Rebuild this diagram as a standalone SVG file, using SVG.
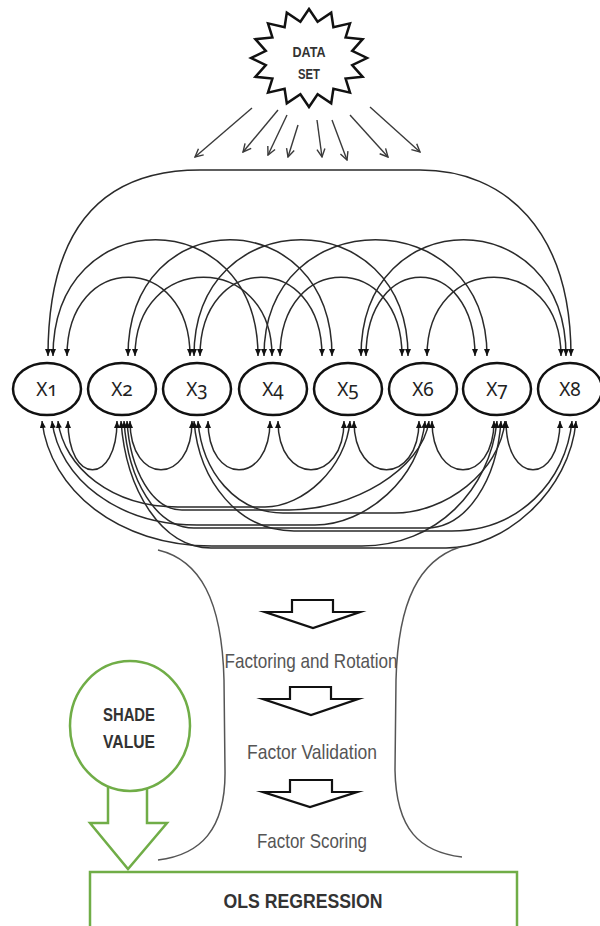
<svg xmlns="http://www.w3.org/2000/svg" width="600" height="926" viewBox="0 0 600 926">
  <style>
    .arc { fill: none; stroke: #2a2a2a; stroke-width: 1.5; marker-start: url(#tip); marker-end: url(#tip); }
    .ray { fill: none; stroke: #3a3a3a; stroke-width: 1.4; marker-end: url(#open); }
    .node { fill: #fff; stroke: #111; stroke-width: 2.5; }
    .lbl { font-family: "Noto Sans", "Liberation Sans", sans-serif; font-size: 19px; fill: #222; text-anchor: middle; font-variant-numeric: oldstyle-nums; font-feature-settings: "onum" 1; }
    .cap { font-family: "Liberation Sans", Arial, sans-serif; font-weight: bold; fill: #333; text-anchor: middle; }
    .step { font-family: "Liberation Sans", Arial, sans-serif; font-size: 21px; fill: #555; text-anchor: middle; }
    .vase { fill: none; stroke: #555; stroke-width: 1.5; }
    .block { fill: #fff; stroke: #111; stroke-width: 2.2; stroke-linejoin: miter; stroke-miterlimit: 12; }
    .green { fill: #fff; stroke: #70ad47; stroke-width: 2.5; }
  </style>
  <defs>
    <marker id="tip" viewBox="0 0 7 6" refX="7" refY="3" markerWidth="7" markerHeight="6" markerUnits="userSpaceOnUse" orient="auto-start-reverse">
      <path d="M0,0 L7,3 L0,6 z" fill="#111"/>
    </marker>
    <marker id="open" viewBox="0 0 10 10" refX="9" refY="5" markerWidth="10" markerHeight="10" markerUnits="userSpaceOnUse" orient="auto">
      <path d="M1,1 L9,5 L1,9" fill="none" stroke="#3a3a3a" stroke-width="1.4"/>
    </marker>
  </defs>

  <rect width="600" height="926" fill="#fff"/>

  <!-- source node -->
  <g id="data-set">
    <polygon fill="#fff" stroke="#111" stroke-width="2.5" stroke-linejoin="miter"
      points="309,9 317.6,21.7 331.2,12.7 333.4,27.2 350,23.4 345.6,37.4 362.6,39.2 352.2,50.8 367,58 352.2,65.2 362.6,76.8 345.6,78.6 350,92.6 333.4,88.8 331.2,103.3 317.6,94.3 309,107 300.4,94.3 286.8,103.3 284.6,88.8 268,92.6 272.4,78.6 255.4,76.8 265.8,65.2 251,58 265.8,50.8 255.4,39.2 272.4,37.4 268,23.4 284.6,27.2 286.8,12.7 300.4,21.7"/>
    <text class="cap" x="309" y="57" font-size="15" textLength="33" lengthAdjust="spacingAndGlyphs">DATA</text>
    <text class="cap" x="309" y="79" font-size="15" textLength="22" lengthAdjust="spacingAndGlyphs">SET</text>
  </g>

  <g id="connectors">
    <!-- rays from the data set -->
    <path class="ray" d="M252,108 L195,157"/>
    <path class="ray" d="M278,110 L243,152"/>
    <path class="ray" d="M287,115 L268,155"/>
    <path class="ray" d="M298,125 L288,157"/>
    <path class="ray" d="M317,120 L322,157"/>
    <path class="ray" d="M332,120 L347,160"/>
    <path class="ray" d="M350,115 L388,157"/>
    <path class="ray" d="M370,107 L420,152"/>

    <!-- upper correlations -->
    <path class="arc" d="M48,356 C48,230 100,170 200,170 L420,170 C505,170 571,230 571,356"/>
    <path class="arc" d="M53,356 C53,201 258,201 258,356"/>
    <path class="arc" d="M128,356 C128,201 332,201 332,356"/>
    <path class="arc" d="M194,356 C194,201 408,201 408,356"/>
    <path class="arc" d="M264,356 C264,201 487,201 487,356"/>
    <path class="arc" d="M361,356 C361,201 566,201 566,356"/>
    <path class="arc" d="M67,356 C67,251 190,251 190,356"/>
    <path class="arc" d="M135,356 C135,251 272,251 272,356"/>
    <path class="arc" d="M200,356 C200,251 322,251 322,356"/>
    <path class="arc" d="M280,356 C280,251 402,251 402,356"/>
    <path class="arc" d="M366,356 C366,251 475,251 475,356"/>
    <path class="arc" d="M427,356 C427,251 561,251 561,356"/>

    <!-- lower correlations: neighbours -->
    <path class="arc" d="M68,421 C68,486 117,486 117,421"/>
    <path class="arc" d="M130,421 C130,486 192,486 192,421"/>
    <path class="arc" d="M208,421 C208,486 270,486 270,421"/>
    <path class="arc" d="M278,421 C278,486 344,486 344,421"/>
    <path class="arc" d="M354,421 C354,486 419,486 419,421"/>
    <path class="arc" d="M432,421 C432,486 494,486 494,421"/>
    <path class="arc" d="M506,421 C506,486 560,486 560,421"/>

    <!-- lower correlations: long spans -->
    <path class="arc" d="M58,421 C64,468 112,507 178,507 L265,507 C303,507 346,468 350,421"/>
    <path class="arc" d="M127,421 C130,470 152,510 182,510 L289,510 C352,510 422,470 429,421"/>
    <path class="arc" d="M198,421 C202,472 236,513 283,513 L395,513 C445,513 500,472 505,421"/>
    <path class="arc" d="M52,421 C59,478 117,525 197,525 L315,525 C366,525 420,478 425,421"/>
    <path class="arc" d="M124,421 C128,480 156,528 194,528 L426,528 C467,528 497,480 501,421"/>
    <path class="arc" d="M194,421 C199,482 239,531 294,531 L452,531 C518,531 566,482 572,421"/>
    <path class="arc" d="M42,421 C50,490 118,546 212,546 L362,546 C436,546 490,490 497,421"/>
    <path class="arc" d="M121,421 C126,491 162,548 211,548 L446,548 C505,548 570,491 576,421"/>
  </g>

  <!-- variables -->
  <g id="x1"><ellipse class="node" cx="47" cy="389" rx="34" ry="26"/><text class="lbl" x="47" y="396">X1</text></g>
  <g id="x2"><ellipse class="node" cx="122" cy="389" rx="34" ry="26"/><text class="lbl" x="122" y="396">X2</text></g>
  <g id="x3"><ellipse class="node" cx="197" cy="389" rx="34" ry="26"/><text class="lbl" x="197" y="396">X3</text></g>
  <g id="x4"><ellipse class="node" cx="273" cy="389" rx="34" ry="26"/><text class="lbl" x="273" y="396">X4</text></g>
  <g id="x5"><ellipse class="node" cx="348" cy="389" rx="34" ry="26"/><text class="lbl" x="348" y="396">X5</text></g>
  <g id="x6"><ellipse class="node" cx="423" cy="389" rx="34" ry="26"/><text class="lbl" x="423" y="396">X6</text></g>
  <g id="x7"><ellipse class="node" cx="497" cy="389" rx="34" ry="26"/><text class="lbl" x="497" y="396">X7</text></g>
  <g id="x8"><ellipse class="node" cx="570" cy="389" rx="32" ry="26"/><text class="lbl" x="570" y="396">X8</text></g>

  <!-- funnel and processing steps -->
  <g id="funnel">
    <path class="vase" d="M158,550 C200,560 222,600 224,680 L225,770 C226,830 200,855 158,860"/>
    <path class="vase" d="M460,547 C420,560 398,600 396,680 L395,770 C396,830 420,852 462,857"/>
  </g>
  <g id="step-factoring">
    <polygon class="block" points="292,600 333,600 333,612 360,612 313,628 265,612 292,612"/>
    <text class="step" x="311" y="668" textLength="173" lengthAdjust="spacingAndGlyphs">Factoring and Rotation</text>
  </g>
  <g id="step-validation">
    <polygon class="block" points="290,687 331,687 331,699 358,699 311,715 263,699 290,699"/>
    <text class="step" x="312" y="759" textLength="130" lengthAdjust="spacingAndGlyphs">Factor Validation</text>
  </g>
  <g id="step-scoring">
    <polygon class="block" points="290,780 332,780 332,792 357,792 310,807 263,792 290,792"/>
    <text class="step" x="312" y="848" textLength="110" lengthAdjust="spacingAndGlyphs">Factor Scoring</text>
  </g>

  <!-- shade value feeding the regression -->
  <g id="shade-value">
    <polygon class="green" points="108,786 147,786 147,823 167,823 128,869 90,823 108,823"/>
    <ellipse class="green" cx="130" cy="726" rx="60" ry="65"/>
    <text class="cap" x="129" y="721" font-size="19" textLength="52" lengthAdjust="spacingAndGlyphs">SHADE</text>
    <text class="cap" x="129" y="748" font-size="19" textLength="52" lengthAdjust="spacingAndGlyphs">VALUE</text>
  </g>

  <g id="ols-regression">
    <rect class="green" x="90" y="872" width="427" height="70"/>
    <text class="cap" x="303" y="908" font-size="20" textLength="159" lengthAdjust="spacingAndGlyphs">OLS REGRESSION</text>
  </g>
</svg>
